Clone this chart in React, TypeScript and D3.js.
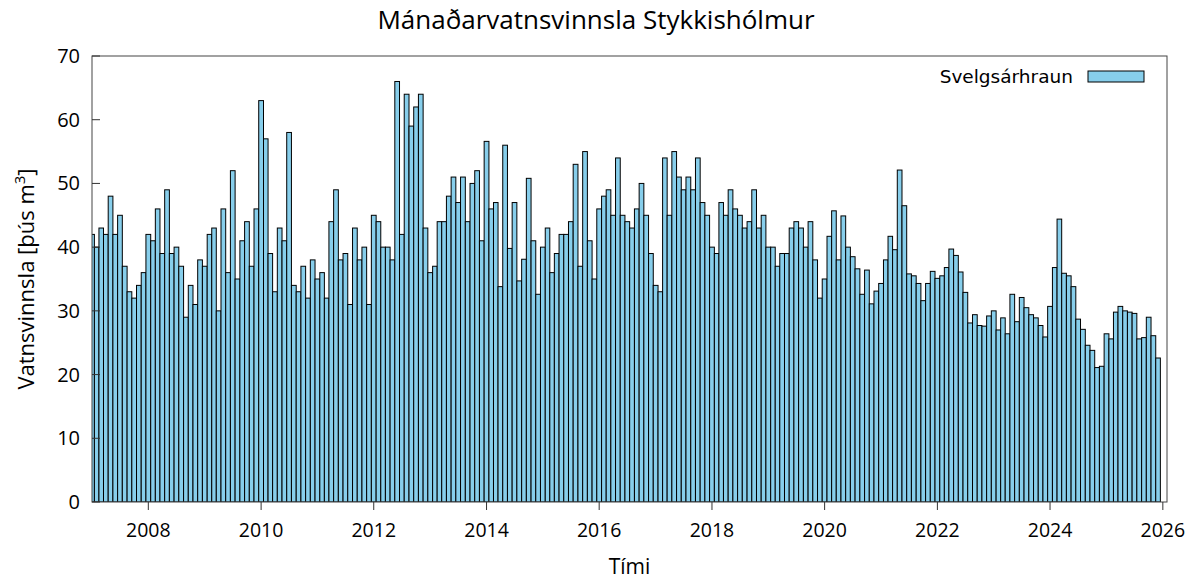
import React, { useEffect, useRef } from 'react';
import * as d3 from 'd3';

// monthly production, thousand m3, one array per year (Jan..Dec)
const seriesName = 'Svelgsárhraun';
const firstMonth = '2007-01';
const y2007 = [42, 40, 43, 42, 48, 42, 45, 37, 33, 32, 34, 36];
const y2008 = [42, 41, 46, 39, 49, 39, 40, 37, 29, 34, 31, 38];
const y2009 = [37, 42, 43, 30, 46, 36, 52, 35, 41, 44, 37, 46];
const y2010 = [63, 57, 39, 33, 43, 41, 58, 34, 33, 37, 32, 38];
const y2011 = [35, 36, 32, 44, 49, 38, 39, 31, 43, 38, 40, 31];
const y2012 = [45, 44, 40, 40, 38, 66, 42, 64, 59, 62, 64, 43];
const y2013 = [36, 37, 44, 44, 48, 51, 47, 51, 44, 50, 52, 41];
const y2014 = [56.6, 46, 47, 33.8, 56, 39.8, 47, 34.7, 38.1, 50.8, 41, 32.6];
const y2015 = [40, 43, 36, 39, 42, 42, 44, 53, 37, 55, 41, 35];
const y2016 = [46, 48, 49, 45, 54, 45, 44, 43, 46, 50, 45, 39];
const y2017 = [34, 33, 54, 45, 55, 51, 49, 51, 49, 54, 47, 45];
const y2018 = [40, 39, 47, 45, 49, 46, 45, 43, 44, 49, 43, 45];
const y2019 = [40, 40, 37, 39, 39, 43, 44, 43, 40, 44, 38, 32];
const y2020 = [35, 41.7, 45.7, 38, 44.9, 40, 38.5, 36.6, 32.6, 36.4, 31.1, 33.1];
const y2021 = [34.3, 38, 41.7, 39.6, 52.1, 46.5, 35.8, 35.5, 34.3, 31.6, 34.3, 36.2];
const y2022 = [35.1, 35.5, 36.8, 39.7, 38.7, 36.1, 32.9, 28.1, 29.4, 27.7, 27.6, 29.2];
const y2023 = [30.0, 27.0, 28.9, 26.4, 32.6, 28.3, 32.1, 30.5, 29.4, 28.9, 27.7, 25.9];
const y2024 = [30.7, 36.8, 44.4, 35.9, 35.5, 33.8, 28.7, 27.1, 24.6, 23.8, 21.1, 21.3];
const y2025 = [26.4, 25.6, 29.8, 30.7, 30.0, 29.8, 29.6, 25.6, 25.8, 29.0, 26.1, 22.6];
const yearRows = [
  y2007, y2008, y2009, y2010, y2011, y2012, y2013, y2014, y2015, y2016,
  y2017, y2018, y2019, y2020, y2021, y2022, y2023, y2024, y2025,
];
const xTickYears = [2008, 2010, 2012, 2014, 2016, 2018, 2020, 2022, 2024, 2026];
const yTicks = [0, 10, 20, 30, 40, 50, 60, 70];

const textFont = '"Open Sans", sans-serif';

export default function App() {
  const ref = useRef<SVGSVGElement>(null);

  useEffect(() => {
    const width = 1192;
    const height = 580;
    const margin = { top: 56, right: 25, bottom: 78, left: 92 };
    const svg = d3.select(ref.current);
    svg.selectAll('*').remove();

    const values = yearRows.flat();
    const start = d3.timeParse('%Y-%m')(firstMonth) as Date;
    const data = values.map((v, i) => ({ date: d3.timeMonth.offset(start, i), v }));

    const x = d3
      .scaleTime()
      .domain([new Date(2007, 0, 1), new Date(2026, 0, 28)])
      .range([margin.left, width - margin.right]);
    const y = d3
      .scaleLinear()
      .domain([0, 70])
      .range([height - margin.bottom, margin.top]);

    const x0 = margin.left;
    const x1 = width - margin.right;
    const yb = height - margin.bottom;

    svg
      .append('defs')
      .append('clipPath')
      .attr('id', 'plot-clip')
      .append('rect')
      .attr('x', x0)
      .attr('y', margin.top)
      .attr('width', x1 - x0)
      .attr('height', yb - margin.top);

    // boxes touch each other, edges halfway between neighbouring months
    const xs = data.map((d) => x(d.date));
    const edge = (i: number) => {
      if (i === 0) return xs[0] - (xs[1] - xs[0]) / 2;
      if (i === xs.length) return xs[i - 1] + (xs[i - 1] - xs[i - 2]) / 2;
      return (xs[i - 1] + xs[i]) / 2;
    };

    svg
      .append('g')
      .attr('clip-path', 'url(#plot-clip)')
      .selectAll('rect')
      .data(data)
      .join('rect')
      .attr('x', (d, i) => edge(i))
      .attr('width', (d, i) => edge(i + 1) - edge(i))
      .attr('y', (d) => y(d.v))
      .attr('height', (d) => yb - y(d.v))
      .attr('fill', '#87ceeb')
      .attr('stroke', '#000')
      .attr('stroke-width', 1);

    // frame
    svg
      .append('rect')
      .attr('x', x0)
      .attr('y', margin.top)
      .attr('width', x1 - x0)
      .attr('height', yb - margin.top)
      .attr('fill', 'none')
      .attr('stroke', '#444')
      .attr('stroke-width', 1);

    // y axis: ticks pointing in
    const yAxis = svg.append('g');
    yAxis
      .selectAll('line')
      .data(yTicks)
      .join('line')
      .attr('x1', x0)
      .attr('x2', x0 + 8)
      .attr('y1', (d) => y(d))
      .attr('y2', (d) => y(d))
      .attr('stroke', '#333');
    yAxis
      .selectAll('text')
      .data(yTicks)
      .join('text')
      .attr('x', x0 - 12)
      .attr('y', (d) => y(d))
      .attr('dy', '0.35em')
      .attr('text-anchor', 'end')
      .style('font-family', textFont)
      .style('font-size', '20px')
      .text((d) => d);

    // x axis: ticks below the frame
    const xAxis = svg.append('g');
    xAxis
      .selectAll('line')
      .data(xTickYears)
      .join('line')
      .attr('x1', (d) => x(new Date(d, 0, 1)))
      .attr('x2', (d) => x(new Date(d, 0, 1)))
      .attr('y1', yb)
      .attr('y2', yb + 8)
      .attr('stroke', '#333');
    xAxis
      .selectAll('text')
      .data(xTickYears)
      .join('text')
      .attr('x', (d) => x(new Date(d, 0, 1)))
      .attr('y', yb + 35)
      .attr('text-anchor', 'middle')
      .style('font-family', textFont)
      .style('font-size', '19.5px')
      .text((d) => d);

    // title and axis titles
    svg
      .append('text')
      .attr('x', width / 2)
      .attr('y', 29)
      .attr('text-anchor', 'middle')
      .style('font-family', textFont)
      .style('font-size', '26px')
      .text('Mánaðarvatnsvinnsla Stykkishólmur');

    svg
      .append('text')
      .attr('x', (x0 + x1) / 2)
      .attr('y', 574)
      .attr('text-anchor', 'middle')
      .style('font-family', textFont)
      .style('font-size', '21px')
      .text('Tími');

    const yl = svg
      .append('text')
      .attr('transform', `translate(34,${(margin.top + yb) / 2}) rotate(-90)`)
      .attr('text-anchor', 'middle')
      .style('font-family', textFont)
      .style('font-size', '22px');
    yl.append('tspan').text('Vatnsvinnsla [þús m');
    yl.append('tspan').attr('dy', -9).style('font-size', '15px').text('3');
    yl.append('tspan').attr('dy', 9).text(']');

    // legend
    const lg = svg.append('g');
    lg.append('text')
      .attr('x', 1073)
      .attr('y', 83)
      .attr('text-anchor', 'end')
      .style('font-family', '"DejaVu Sans", sans-serif')
      .style('font-size', '18.5px')
      .text(seriesName);
    lg.append('rect')
      .attr('x', 1088)
      .attr('y', 71)
      .attr('width', 56)
      .attr('height', 11)
      .attr('fill', '#87ceeb')
      .attr('stroke', '#000');
  }, []);

  return (
    <svg
      ref={ref}
      width={1192}
      height={580}
      style={{ position: 'absolute', left: 0, top: 0, background: '#fff' }}
    />
  );
}
